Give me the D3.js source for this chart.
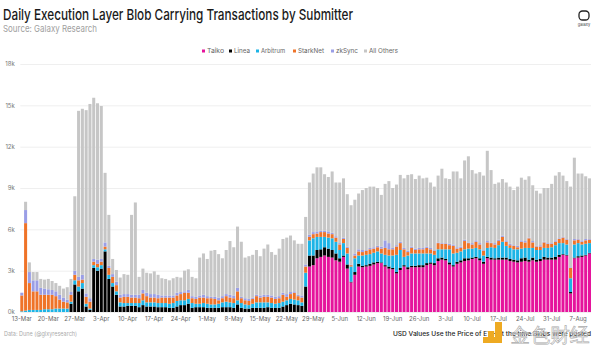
<!DOCTYPE html>
<html>
<head>
<meta charset="utf-8">
<script src="https://cdn.jsdelivr.net/npm/d3@7"></script>
<style>
  body { margin: 0; background: #fff; }
  svg { display: block; }
  text { font-family: Inter, "Liberation Sans", sans-serif; }
</style>
</head>
<body>
<svg id="chart" width="600" height="355"></svg>
<script>
// daily blob carrying txs, in thousands (13-Mar to 10-Aug)
const taiko = [0,0,0,0,0,0,0,0,0,0,0,0,0,0,0,0,0,0,0,0,0,0,0,0,0,0,0,0,0,0,0,0,0,0,0,0,0,0,0,0,0,0,0,0,0,0,0,0,0,0,0,0,0,0,0,0,0,0,0,0,0,0,0,0,0,0,0,0,0,0,0,0,0,0,0,0,
  3.3,3.4,3.9,4.0,4.1,4.0,3.95,3.75,3.65,4.0,3.15,2.15,2.7,3.3,3.25,3.3,3.35,3.45,3.55,3.55,3.3,3.15,3.1,2.8,3.05,3.3,3.1,3.25,3.25,3.25,3.25,3.4,3.5,3.4,3.7,3.8,3.75,3.45,
  3.3,3.5,3.6,3.7,3.75,3.85,3.9,3.75,3.5,3.9,3.8,3.8,3.8,3.8,3.8,3.7,3.65,3.6,3.65,3.7,3.65,3.75,3.65,3.7,3.8,3.8,3.8,3.8,4.0,4.15,4.1,1.35,3.9,3.95,4.0,4.1,4.25];
const linea = [0,0,0,0,0,0,0,0,0,0,0,0,0,.6,2.0,1.5,1.7,.4,.15,3.2,3.0,3.15,4.4,2.4,1.85,1.25,.4,.4,.45,.45,.45,.35,.5,.4,.4,.4,.35,.35,.35,.3,.3,.4,.5,.5,.6,.3,.35,.35,.35,.3,.3,.3,.3,.35,.35,.35,.3,.55,.3,.25,.25,.3,.3,.3,.3,.35,.3,.3,.3,.4,.5,.6,.55,.5,.45,1.85,
  .8,.7,.6,.55,.6,.6,.55,.5,.25,.1,.3,.05,.2,.2,.1,.1,.15,.15,.1,.05,.1,.15,.1,.1,.15,.1,.15,.1,.1,.15,.15,.15,.1,.15,.2,.15,.1,.15,
  .1,.15,.15,.2,.15,.1,.1,.15,.15,.1,.15,.1,.15,.15,.15,.15,.15,.15,.25,.25,.15,.2,.15,.15,.2,.15,.15,.2,.15,.05,.05,.1,.05,.1,.1,.05,.05];
const arbitrum = [.05,.1,.15,.15,.15,.15,.2,.2,.2,.25,.25,.25,.25,.15,.3,.35,.4,.2,.1,.2,.25,.25,.15,.3,.25,.25,.3,.25,.2,.2,.2,.3,.35,.3,.3,.3,.3,.3,.3,.3,.35,.4,.35,.35,.35,.35,.25,.25,.3,.3,.25,.25,.3,.35,.4,.35,.35,.3,.35,.3,.25,.3,.4,.4,.4,.35,.35,.3,.35,.35,.35,.35,.35,.35,.25,1.0,
  1.1,1.25,.95,.9,.75,.8,.85,.85,.6,.9,.8,1.1,1.0,.6,.75,.75,.7,.7,.75,.65,.75,.8,.9,1.25,1.3,.6,.85,.9,.9,.85,.85,.7,.65,.6,.65,.6,.7,.95,
  .85,.65,.65,.65,.7,.65,.65,.65,.45,.65,.75,.75,.9,1.15,.85,.8,.75,.8,.7,.7,.85,.7,.7,.65,.65,.7,.75,.85,.85,.8,.75,1.0,.95,.95,.8,.8,.7];
const starknet = [1.15,6.35,1.95,1.35,1.35,1.1,1.05,1.05,1.05,.9,.65,.5,.45,.5,.4,.45,.25,.5,.5,.25,.25,.25,.2,.5,.45,.45,.35,.45,.45,.4,.4,.35,.5,.45,.35,.35,.35,.4,.4,.45,.4,.4,.45,.55,.45,.35,.35,.45,.4,.4,.45,.4,.25,.3,.4,.35,.35,.65,.35,.3,.3,.35,.45,.35,.4,.4,.4,.35,.35,.5,.25,.35,.5,.3,.35,.45,
  .25,.3,.25,.35,.35,.3,.3,.3,.4,.3,.4,.1,.2,.3,.25,.3,.35,.3,.3,.35,.5,.45,.45,.6,.5,.55,.25,.4,.25,.3,.3,.4,.3,.3,.45,.4,.4,.3,
  .55,.3,.25,.6,.4,.3,.45,.35,.35,.4,.3,.25,.3,.35,.3,.2,.25,.15,.5,.4,.7,.4,.25,.25,.4,.3,.25,.25,.3,.4,.35,.75,.3,.25,.2,.25,.25];
const zksync = [.2,.95,.8,.8,.8,.5,.45,.4,.35,.35,.35,.3,.2,.2,.3,.25,.35,.25,.25,.2,.3,.2,.3,.15,.2,.25,.2,.2,.2,.2,.2,.25,.25,.25,.25,.25,.25,.15,.15,.15,.15,.2,.15,.1,.2,.15,.15,.15,.2,.15,.1,.15,.2,.15,.15,.2,.2,.25,.1,.15,.15,.1,.1,.15,.15,.15,.15,.15,.15,.15,.2,.15,.1,.1,.15,.15,
  .15,.15,.15,.1,.1,.15,.1,.1,.1,.1,.1,.05,.15,.15,.15,.05,.1,.1,.1,.15,.55,.45,.1,.1,.1,.1,.1,.1,.1,.1,.1,.1,.1,.05,.05,.05,.05,.1,
  .1,.1,.1,.1,.05,.1,.1,.1,.05,.1,.05,.1,.1,.1,.1,.1,.05,.1,.1,.1,.05,.1,.05,.1,.05,.05,.05,.1,.05,.05,.05,.05,.1,.05,.1,.1,.05];
const allOthers = [0,.6,.7,.6,.6,.65,.65,.75,.65,.6,.65,.65,.9,.95,5.4,12.05,12.05,13.3,14.1,11.7,11.35,11.1,5.05,3.7,1.1,.85,1.25,1.45,1.4,5.8,6.7,1.3,1.55,1.45,1.5,1.65,1.45,1.25,1.2,1.1,1.25,1.15,1.05,1.5,1.5,1.4,1.35,2.75,3.0,2.7,3.35,3.4,3.15,2.75,3.2,3.9,3.5,4.45,4.0,2.95,3.1,3.1,3.25,2.85,3.35,3.65,3.15,3.05,3.45,3.9,4.1,4.1,3.7,3.7,3.75,3.45,
  3.8,4.25,4.65,4.6,4.1,3.95,4.45,3.9,4.4,4.3,3.8,4.3,3.9,4.05,4.35,4.5,4.45,4.4,4.2,3.75,4.1,4.5,4.35,4.4,4.85,5.05,5.5,5.25,5.05,5.25,5.05,5.0,4.75,4.6,4.85,5.4,4.7,4.7,
  5.3,5.5,4.95,5.75,6.25,5.3,4.85,5.15,5.4,6.55,5.25,4.3,4.15,4.1,4.2,4.15,4.0,4.3,4.55,4.45,4.45,4.05,4.0,3.75,3.9,4.0,4.3,4.7,4.8,4.45,4.2,5.85,5.9,4.75,4.85,4.55,4.4];

const seriesNames = ["Taiko", "Linea", "Arbitrum", "StarkNet", "zkSync", "All Others"];
const seriesColors = ["#e5149c", "#000000", "#1cb4e6", "#ef7328", "#9a9ee6", "#c6c6c6"];
const seriesValues = [taiko, linea, arbitrum, starknet, zksync, allOthers];
const yTicks = [0, 3, 6, 9, 12, 15, 18];

const svg = d3.select("#chart");
const plotLeft = 20.3, plotRight = 591, plotTop = 64, plotBottom = 312;

const days = d3.timeDay.range(new Date(2024, 2, 13), new Date(2024, 7, 11));
const rows = days.map((d, i) => {
    const row = { day: d };
    seriesNames.forEach((name, s) => { row[name] = seriesValues[s][i]; });
    return row;
});

const x = d3.scaleBand().domain(days).range([plotLeft, plotRight]).paddingInner(0.2).paddingOuter(0);
const y = d3.scaleLinear().domain([0, 18]).range([plotBottom, plotTop]);
const stacked = d3.stack().keys(seriesNames)(rows);

// Title block
svg.append("text").attr("x", 3).attr("y", 20)
    .attr("font-size", 15).attr("font-weight", 500).attr("fill", "#1a1a1a")
    .attr("textLength", 350).attr("lengthAdjust", "spacingAndGlyphs")
    .text("Daily Execution Layer Blob Carrying Transactions by Submitter");
svg.append("text").attr("x", 3).attr("y", 32)
    .attr("font-size", 9.5).attr("fill", "#a0a0a0")
    .attr("textLength", 94).attr("lengthAdjust", "spacingAndGlyphs")
    .text("Source: Galaxy Research");

// Galaxy mark
svg.append("rect").attr("x", 579).attr("y", 11).attr("width", 10).attr("height", 9).attr("rx", 3.5)
    .attr("fill", "none").attr("stroke", "#222").attr("stroke-width", 1.3);
svg.append("text").attr("x", 584).attr("y", 26).attr("text-anchor", "middle")
    .attr("font-size", 4).attr("fill", "#444").text("galaxy");

// Legend
const legendX = [202, 229, 256, 293, 331, 364];
const legendW = [17, 16, 24, 26, 22, 29];
const legend = svg.append("g").selectAll("g")
    .data(seriesNames)
    .join("g")
    .attr("transform", (d, i) => `translate(${legendX[i]},51)`);
legend.append("rect").attr("y", -1.5).attr("width", 3).attr("height", 3)
    .attr("fill", (d, i) => seriesColors[i]);
legend.append("text").attr("x", 5).attr("y", 2.4)
    .attr("font-size", 6.8).attr("fill", "#666")
    .attr("textLength", (d, i) => legendW[i]).attr("lengthAdjust", "spacingAndGlyphs")
    .text(d => d);

// Y axis and gridlines
svg.append("g")
    .attr("transform", `translate(${plotLeft},0)`)
    .call(d3.axisLeft(y).tickValues(yTicks).tickFormat(d => d + "k").tickSize(0).tickPadding(5.5))
    .call(g => g.select(".domain").remove())
    .call(g => g.selectAll("line").attr("x2", plotRight - plotLeft).attr("stroke", "#efefef"))
    .call(g => g.selectAll("text").attr("font-size", 6).attr("fill", "#777"))
    .attr("font-family", null);

// Bars
svg.append("g").selectAll("g")
    .data(stacked)
    .join("g")
    .attr("fill", (d, i) => seriesColors[i])
    .selectAll("rect")
    .data(d => d)
    .join("rect")
    .attr("x", d => x(d.data.day))
    .attr("width", x.bandwidth())
    .attr("y", d => y(d[1]))
    .attr("height", d => y(d[0]) - y(d[1]));

// X axis, one label every seven days
const fmt = d3.timeFormat("%-d-%b");
svg.append("g")
    .attr("transform", `translate(0,${plotBottom})`)
    .call(d3.axisBottom(x).tickValues(days.filter((d, i) => i % 7 === 0)).tickFormat(fmt).tickSize(0).tickPadding(5))
    .call(g => g.select(".domain").remove())
    .call(g => g.selectAll("text").attr("font-size", 6).attr("fill", "#666"))
    .attr("font-family", null);

// Footer
svg.append("text").attr("x", 4).attr("y", 336)
    .attr("font-size", 6.2).attr("fill", "#aaa")
    .attr("textLength", 73).attr("lengthAdjust", "spacingAndGlyphs")
    .text("Data: Dune (@glxyresearch)");
svg.append("text").attr("x", 393).attr("y", 336)
    .attr("font-size", 6).attr("font-weight", 500).attr("fill", "#222")
    .attr("textLength", 198).attr("lengthAdjust", "spacingAndGlyphs")
    .text("USD Values Use the Price of ETH at the time Blobs were posted");

// Watermark over the footer
svg.append("path")
    .attr("d", "M495 322h7v21h-19v-6h12zM488 331h6v6h-6z")
    .attr("fill", "#eeaa22");
svg.append("text").attr("x", 510).attr("y", 342)
    .attr("font-family", "'Noto Sans CJK SC'").attr("font-size", 20)
    .attr("fill", "#ffffff").attr("fill-opacity", 0.55)
    .attr("stroke", "#aaa").attr("stroke-width", 0.6)
    .text("金色财经");
</script>
</body>
</html>
